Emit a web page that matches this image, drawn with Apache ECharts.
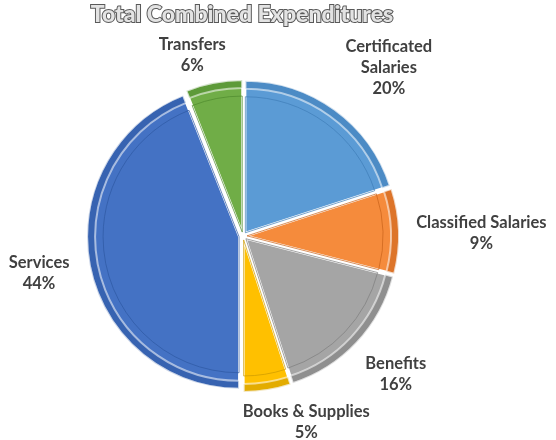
<!DOCTYPE html>
<html>
<head>
<meta charset="utf-8">
<script src="https://cdn.jsdelivr.net/npm/echarts@6/dist/echarts.min.js"></script>
<style>
  html, body { margin: 0; padding: 0; background: #fff; }
  #chart { width: 556px; height: 440px; }
</style>
</head>
<body>
<div id="chart"></div>
<script>
const categories = ['Certificated\nSalaries', 'Classified Salaries', 'Benefits', 'Books & Supplies', 'Services', 'Transfers'];
const shares = [20, 9, 16, 5, 44, 6];
const colors = ['#5B9BD5', '#F58B3C', '#A5A5A5', '#FFC000', '#4472C4', '#70AD47'];
const edgeColors = ['#3F7DB8', '#C9621A', '#7E7E7E', '#CC9A00', '#2E58A3', '#4F8A2E'];
// Excel "best fit" nudges the labels a little around the pie (degrees / px gap)
const labelAngleShift = [5, 1.2, -1, -10, 0.5, -5];
const labelGap = [16, 17, 15, 2, 18, 4];

const chart = echarts.init(document.getElementById('chart'));

const CENTER = [243, 236];
const R = 152;

const total = shares.reduce((a, b) => a + b, 0);
const midAngles = [];
let acc = 0;
shares.forEach(v => {
  midAngles.push((acc + v / 2) / total * 360);
  acc += v;
});

function sliceData(style) {
  return categories.map((name, i) => ({
    name: name,
    value: shares[i],
    selected: true,
    itemStyle: style(i)
  }));
}

const common = {
  type: 'pie',
  center: CENTER,
  startAngle: 90,
  clockwise: true,
  selectedMode: 'multiple',
  selectedOffset: 4,
  emphasis: { disabled: true }
};

chart.setOption({
  animation: false,
  title: {
    text: 'Total Combined Expenditures',
    left: 242,
    textAlign: 'center',
    top: 3,
    padding: 0,
    textStyle: {
      fontFamily: 'Lato',
      fontWeight: 900,
      fontSize: 23,
      color: '#E3E3E3',
      textBorderColor: '#595959',
      textBorderWidth: 2
    }
  },
  series: [
    Object.assign({}, common, {
      radius: [0, R],
      data: sliceData(i => ({ color: colors[i], borderColor: '#ffffff', borderWidth: 2 })),
      label: {
        show: true,
        position: 'outside',
        overflow: 'none',
        formatter: '{t|{b}}\n{t|{d}%}',
        rich: {
          t: {
            align: 'center',
            fontFamily: 'Lato',
            fontWeight: 'bold',
            fontSize: 16.5,
            lineHeight: 21,
            color: '#404040'
          }
        }
      },
      labelLine: { show: false, length: 18, length2: 0 },
      labelLayout: function (p) {
        const i = p.dataIndex;
        const a = (midAngles[i] + labelAngleShift[i]) * Math.PI / 180;
        const ux = Math.sin(a), uy = -Math.cos(a);
        const r = p.labelRect;
        const w = r.width / 2, h = r.height / 2;
        const d = R + labelGap[i] + Math.abs(ux) * w + Math.abs(uy) * h;
        return {
          dx: CENTER[0] + ux * d - (r.x + w),
          dy: CENTER[1] + uy * d - (r.y + h)
        };
      }
    }),
    Object.assign({}, common, {
      radius: [R - 8, R],
      silent: true,
      data: sliceData(i => ({ color: edgeColors[i], opacity: 0.55, borderColor: '#ffffff', borderWidth: 2 })),
      label: { show: false },
      labelLine: { show: false }
    }),
    Object.assign({}, common, {
      radius: [0, R - 16],
      silent: true,
      data: sliceData(i => ({ color: 'transparent', borderColor: edgeColors[i], borderWidth: 1, opacity: 0.7 })),
      label: { show: false },
      labelLine: { show: false }
    })
  ]
});
</script>
</body>
</html>
